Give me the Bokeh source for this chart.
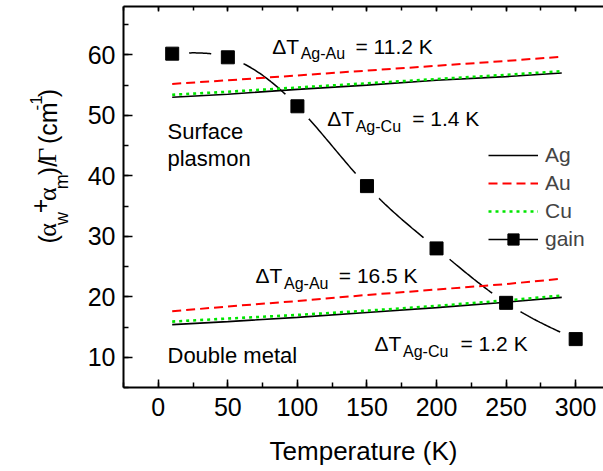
import numpy as np
from bokeh.plotting import figure
from bokeh.layouts import row
from bokeh.models import (Range1d, LinearAxis, SingleIntervalTicker, Label,
                          Legend, LegendItem)
from bokeh.embed import file_html
from bokeh.resources import INLINE

# ---- data -------------------------------------------------------------
temperature = [10, 50, 100, 150, 200, 250, 290]          # K

# surface-plasmon waveguide
sp_ag = [53.0, 53.5, 54.3, 55.0, 55.8, 56.4, 57.0]
sp_au = [55.2, 55.8, 56.6, 57.4, 58.2, 59.0, 59.7]
sp_cu = [53.4, 53.9, 54.6, 55.3, 56.0, 56.7, 57.3]

# double-metal waveguide
dm_ag = [15.4, 15.9, 16.6, 17.4, 18.2, 19.1, 19.9]
dm_au = [17.6, 18.4, 19.3, 20.3, 21.2, 22.1, 23.0]
dm_cu = [15.9, 16.4, 17.0, 17.7, 18.5, 19.4, 20.2]

# measured gain
gain_t = [10, 50, 100, 150, 200, 250, 300]
gain = [60.2, 59.6, 51.5, 38.3, 28.0, 19.0, 13.0]

x_ticks_step, y_ticks_step = 50, 10

FONT = "Liberation Sans"
SERIF = "Liberation Serif"

# page geometry
W, H = 603, 471
LW = 75                      # width of the strip holding the y title
FL, FT, FB = 123, 6, 387     # frame left / top / bottom on the page


def natural_spline(x, y, n=40):
    """Smooth connector through the gain points (natural cubic spline)."""
    x = np.asarray(x, float)
    y = np.asarray(y, float)
    k = len(x)
    h = np.diff(x)
    A = np.zeros((k, k))
    b = np.zeros(k)
    A[0, 0] = A[-1, -1] = 1.0
    for i in range(1, k - 1):
        A[i, i - 1] = h[i - 1]
        A[i, i] = 2 * (h[i - 1] + h[i])
        A[i, i + 1] = h[i]
        b[i] = 3 * ((y[i + 1] - y[i]) / h[i] - (y[i] - y[i - 1]) / h[i - 1])
    c = np.linalg.solve(A, b)
    xs, ys = [], []
    for i in range(k - 1):
        t = np.linspace(0, h[i], n)
        bi = (y[i + 1] - y[i]) / h[i] - h[i] * (2 * c[i] + c[i + 1]) / 3
        di = (c[i + 1] - c[i]) / (3 * h[i])
        xs.append(x[i] + t)
        ys.append(y[i] + bi * t + c[i] * t ** 2 + di * t ** 3)
    return np.concatenate(xs), np.concatenate(ys)


p = figure(width=W - LW, height=H, output_backend="svg",
           toolbar_location=None,
           x_range=Range1d(-25, 320), y_range=Range1d(5, 68),
           x_axis_location=None, y_axis_location=None,
           min_border_left=FL - LW, min_border_right=0,
           min_border_top=FT, min_border_bottom=H - FB)
p.outline_line_color = None
p.xgrid.visible = False
p.ygrid.visible = False
p.background_fill_color = "white"
p.border_fill_color = "white"

xt = SingleIntervalTicker(interval=x_ticks_step, num_minor_ticks=2)
yt = SingleIntervalTicker(interval=y_ticks_step, num_minor_ticks=2)


def style_axis(ax, tick_in, minor_in, standoff, label_size="25px"):
    ax.axis_line_width = 2
    ax.major_tick_line_width = 1.5
    ax.minor_tick_line_width = 1.5
    ax.major_tick_in = tick_in
    ax.major_tick_out = 0
    ax.minor_tick_in = minor_in
    ax.minor_tick_out = 0
    ax.major_label_standoff = standoff
    ax.major_label_text_font = FONT
    ax.major_label_text_font_size = label_size
    ax.major_label_text_color = "black"


bottom = LinearAxis(ticker=xt, axis_label="Temperature (K)")
style_axis(bottom, 8, 5, 10)
bottom.axis_label_text_font = FONT
bottom.axis_label_text_font_size = "26px"
bottom.axis_label_text_font_style = "normal"
bottom.axis_label_text_color = "black"
bottom.axis_label_standoff = 17
p.add_layout(bottom, "below")

left = LinearAxis(ticker=yt)
style_axis(left, 9, 5, 8)
p.add_layout(left, "left")

top = LinearAxis(ticker=xt)
style_axis(top, 5, 4, 0, label_size="0px")
top.major_label_text_alpha = 0
p.add_layout(top, "above")

# ---- gain curve with gaps around the symbols ---------------------------
sx, sy = natural_spline(gain_t, gain)
gain_line = p.line(sx, sy, line_color="black", line_width=1.5)
p.scatter(gain_t, gain, marker="circle", size=34, fill_color="white",
          line_color=None)

# ---- metal curves ------------------------------------------------------
styles = {
    "Ag": dict(line_color="black", line_width=1.6),
    "Au": dict(line_color="#ff0000", line_width=2, line_dash="9 5"),
    "Cu": dict(line_color="#00e600", line_width=2.6, line_dash="3 4"),
}
r_ag = p.line(temperature, sp_ag, **styles["Ag"])
p.line(temperature, dm_ag, **styles["Ag"])
r_au = p.line(temperature, sp_au, **styles["Au"])
p.line(temperature, dm_au, **styles["Au"])
r_cu = p.line(temperature, sp_cu, **styles["Cu"])
p.line(temperature, dm_cu, **styles["Cu"])

gain_pts = p.scatter(gain_t, gain, marker="square", size=13,
                     fill_color="black", line_color="black")

legend = Legend(items=[
    LegendItem(label="Ag", renderers=[r_ag]),
    LegendItem(label="Au", renderers=[r_au]),
    LegendItem(label="Cu", renderers=[r_cu]),
    LegendItem(label="gain", renderers=[gain_line, gain_pts]),
], location=(488 - FL, FB - 253))
legend.glyph_width = 50
legend.glyph_height = 28
legend.label_height = 28
legend.spacing = 0
legend.padding = 0
legend.margin = 0
legend.label_standoff = 7
legend.border_line_color = None
legend.background_fill_alpha = 0
legend.label_text_font = FONT
legend.label_text_font_size = "21px"
p.add_layout(legend)


# ---- text inside the plot ---------------------------------------------
def put(px, py, text, size, font=FONT):
    p.add_layout(Label(x=px - FL, y=FB - py, x_units="screen",
                       y_units="screen", text=text, text_font=font,
                       text_font_size=f"{size}px", text_color="black",
                       text_align="left", text_baseline="alphabetic"))


def delta_t(px, py, pair, rest, eq_dx):
    put(px, py, "\u0394T", 21)
    put(px + 28.5, py + 7.5, pair, 16)
    put(px + eq_dx, py, rest, 21)


delta_t(271.7, 45.7, "Ag-Au", "= 11.2 K", 83.3)
delta_t(326.7, 118.3, "Ag-Cu", "= 1.4 K", 85.0)
delta_t(255.0, 275.0, "Ag-Au", "= 16.5 K", 83.3)
delta_t(374.0, 343.3, "Ag-Cu", "= 1.2 K", 86.0)

put(167, 130.7, "Surface", 22)
put(167, 158.3, "plasmon", 22)
put(167, 355.0, "Double metal", 22)

# ---- rotated y title in its own strip: (α_w + α_m)/Γ (cm^-1) -----------
q = figure(width=LW, height=H, output_backend="svg", toolbar_location=None,
           x_range=Range1d(0, LW), y_range=Range1d(H, 0),
           x_axis_location=None, y_axis_location=None,
           min_border=0, min_border_left=0, min_border_right=0,
           min_border_top=0, min_border_bottom=0)
q.outline_line_color = None
q.xgrid.visible = False
q.ygrid.visible = False
q.border_fill_color = "white"

EM = {"(": .333, ")": .333, "/": .278, "c": .5, "m": .833,
      "w": .722, "+": .584, "-": .333, "1": .556,
      "\u03b1": .56, "\u0393": .62}
# (text, font size, font, shift across the baseline, extra gap after)
pieces = [
    ("(", 25, FONT, 0, 0), ("\u03b1", 26, SERIF, 0, 0),
    ("w", 18, FONT, 14, 1.5), ("+", 25, FONT, -8, 0.5),
    ("\u03b1", 26, SERIF, 0, 0), ("m", 18, FONT, 14, 2.5),
    (")/", 25, FONT, 0, 0), ("\u0393", 26, SERIF, 0, 7),
    ("(cm", 25, FONT, 0, 0), ("-1", 17, FONT, -12, 1), (")", 25, FONT, 0, 0),
]
base_x, cur = 47.0, 293.0
for txt, size, font, shift, gap in pieces:
    q.add_layout(Label(x=base_x + shift, y=cur, text=txt, text_font=font,
                       text_font_size=f"{size}px", text_color="black",
                       text_align="left", text_baseline="alphabetic",
                       angle=np.pi / 2))
    cur -= sum(EM.get(ch, .55) for ch in txt) * size + gap

layout = row(q, p, spacing=0)
open("out.html", "w").write(file_html(layout, INLINE))
